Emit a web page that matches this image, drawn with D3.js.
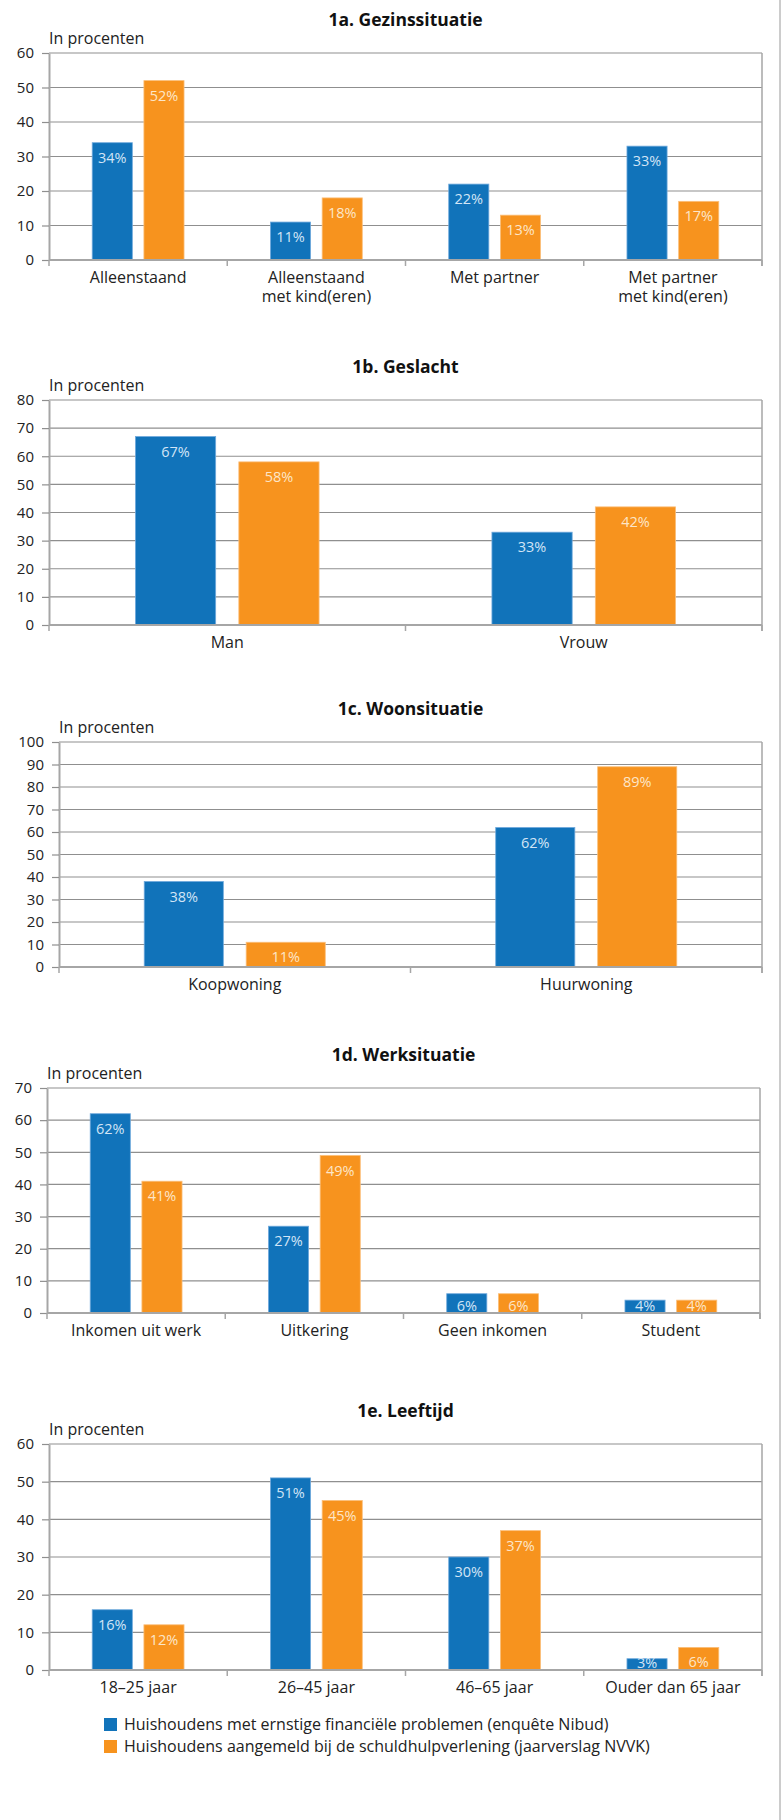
<!DOCTYPE html>
<html>
<head>
    <meta charset="utf-8">
    <title>Huishoudens met financiële problemen</title>
    <script src="https://cdnjs.cloudflare.com/ajax/libs/d3/7.8.5/d3.min.js"></script>
    <style>
        body {
            margin: 0;
            background: white;
            font-family: "Open Sans", "Noto Sans", sans-serif;
        }
    </style>
</head>
<body>
    <div id="chart"></div>

    <script>
        // data per panel
        const series = ["Huishoudens met ernstige financiële problemen (enquête Nibud)",
                        "Huishoudens aangemeld bij de schuldhulpverlening (jaarverslag NVVK)"];

        const catsA = ["Alleenstaand", "Alleenstaand\nmet kind(eren)", "Met partner", "Met partner\nmet kind(eren)"];
        const nibudA = [34, 11, 22, 33];
        const nvvkA = [52, 18, 13, 17];

        const catsB = ["Man", "Vrouw"];
        const nibudB = [67, 33];
        const nvvkB = [58, 42];

        const catsC = ["Koopwoning", "Huurwoning"];
        const nibudC = [38, 62];
        const nvvkC = [11, 89];

        const catsD = ["Inkomen uit werk", "Uitkering", "Geen inkomen", "Student"];
        const nibudD = [62, 27, 6, 4];
        const nvvkD = [41, 49, 6, 4];

        const catsE = ["18–25 jaar", "26–45 jaar", "46–65 jaar", "Ouder dan 65 jaar"];
        const nibudE = [16, 51, 30, 3];
        const nvvkE = [12, 45, 37, 6];

        const yMaxA = 60, yMaxB = 80, yMaxC = 100, yMaxD = 70, yMaxE = 60;

        // layout of the panels (pixels)
        const panels = [
            { title: "1a. Gezinssituatie", cats: catsA, a: nibudA, b: nvvkA, max: yMaxA, x0: 49, x1: 762, y0: 53, y1: 260 },
            { title: "1b. Geslacht", cats: catsB, a: nibudB, b: nvvkB, max: yMaxB, x0: 49, x1: 762, y0: 400, y1: 625 },
            { title: "1c. Woonsituatie", cats: catsC, a: nibudC, b: nvvkC, max: yMaxC, x0: 59, x1: 762, y0: 742, y1: 967 },
            { title: "1d. Werksituatie", cats: catsD, a: nibudD, b: nvvkD, max: yMaxD, x0: 47, x1: 760, y0: 1088, y1: 1313 },
            { title: "1e. Leeftijd", cats: catsE, a: nibudE, b: nvvkE, max: yMaxE, x0: 49, x1: 762, y0: 1444, y1: 1670 }
        ];

        const blue = "#1173ba";
        const orange = "#f7931e";
        const gridColor = "#8f8f8f";

        const width = 781, height = 1820;

        const svg = d3.select("#chart")
            .append("svg")
            .attr("width", width)
            .attr("height", height);

        // grey rule on the right side of the page
        svg.append("line")
            .attr("x1", 780).attr("x2", 780)
            .attr("y1", 0).attr("y2", height)
            .attr("stroke", "#cccccc")
            .attr("stroke-width", 2);

        panels.forEach(p => {
            const g = svg.append("g");

            const x = d3.scaleBand().domain(p.cats).range([p.x0, p.x1]);
            const xs = d3.scaleBand().domain(["a", "b"]).range([0, x.bandwidth()])
                .paddingInner(0.224).paddingOuter(0.836);
            const y = d3.scaleLinear().domain([0, p.max]).range([p.y1, p.y0]);

            // title
            g.append("text")
                .attr("x", (p.x0 + p.x1) / 2)
                .attr("y", p.y0 - 27)
                .attr("text-anchor", "middle")
                .attr("font-size", "17.5px")
                .attr("font-weight", "bold")
                .attr("fill", "#111")
                .text(p.title);

            g.append("text")
                .attr("x", p.x0)
                .attr("y", p.y0 - 9)
                .attr("font-size", "16px")
                .attr("fill", "#222")
                .text("In procenten");

            // gridlines
            const ticks = d3.range(0, p.max + 1, 10);
            g.append("g")
                .selectAll("line")
                .data(ticks.filter(t => t > 0))
                .join("line")
                .attr("x1", p.x0).attr("x2", p.x1)
                .attr("y1", d => y(d)).attr("y2", d => y(d))
                .attr("stroke", gridColor)
                .attr("stroke-width", 1.2);

            // right border
            g.append("line")
                .attr("x1", p.x1).attr("x2", p.x1)
                .attr("y1", p.y0).attr("y2", p.y1 + 6)
                .attr("stroke", "#a6a6a6")
                .attr("stroke-width", 1.5);

            // y axis
            const yAxis = g.append("g")
                .attr("transform", `translate(${p.x0},0)`)
                .call(d3.axisLeft(y).tickValues(ticks).tickSize(7).tickPadding(8).tickSizeOuter(0));
            yAxis.select(".domain").attr("stroke", "#a6a6a6").attr("stroke-width", 2);
            yAxis.selectAll(".tick line").attr("stroke", gridColor).attr("stroke-width", 1.2);
            yAxis.selectAll(".tick text")
                .attr("font-size", "15px")
                .attr("fill", "#222")
                .attr("font-family", "'Open Sans', sans-serif");

            // bars
            const cells = [];
            p.cats.forEach((c, i) => {
                cells.push({ cat: c, key: "a", v: p.a[i] });
                cells.push({ cat: c, key: "b", v: p.b[i] });
            });

            g.append("g")
                .selectAll("rect")
                .data(cells)
                .join("rect")
                .attr("x", d => x(d.cat) + xs(d.key))
                .attr("width", xs.bandwidth())
                .attr("y", d => y(d.v))
                .attr("height", d => y(0) - y(d.v))
                .attr("fill", d => d.key === "a" ? blue : orange)
                .attr("stroke", d => d.key === "a" ? "#6fa9dc" : "#fbbf7a")
                .attr("stroke-width", 0.8);

            // x axis line
            g.append("line")
                .attr("x1", p.x0).attr("x2", p.x1)
                .attr("y1", p.y1).attr("y2", p.y1)
                .attr("stroke", "#a6a6a6")
                .attr("stroke-width", 2);

            // value labels inside the bar top, kept above the axis for short bars
            g.append("g")
                .selectAll("text")
                .data(cells)
                .join("text")
                .attr("x", d => x(d.cat) + xs(d.key) + xs.bandwidth() / 2)
                .attr("y", d => Math.min(y(d.v) + 20, y(0) - 2))
                .attr("text-anchor", "middle")
                .attr("font-size", "14.5px")
                .attr("fill", d => d.key === "a" ? "#d3e5f6" : "#fde6c8")
                .text(d => d.v + "%");

            // category boundary ticks
            const bounds = p.cats.map(c => x(c)).concat([p.x1]);
            g.append("g")
                .selectAll("line")
                .data(bounds)
                .join("line")
                .attr("x1", d => d).attr("x2", d => d)
                .attr("y1", p.y1).attr("y2", p.y1 + 6)
                .attr("stroke", "#a6a6a6")
                .attr("stroke-width", 1.5);

            // category labels
            const lab = g.append("g")
                .selectAll("text")
                .data(p.cats)
                .join("text")
                .attr("x", d => x(d) + x.bandwidth() / 2)
                .attr("y", p.y1 + 23)
                .attr("text-anchor", "middle")
                .attr("font-size", "16px")
                .attr("fill", "#222");
            lab.each(function (d) {
                d.split("\n").forEach((line, i) => {
                    d3.select(this).append("tspan")
                        .attr("x", x(d) + x.bandwidth() / 2)
                        .attr("dy", i === 0 ? 0 : 19)
                        .text(line);
                });
            });
        });

        // legend
        const legend = svg.append("g");
        legend.selectAll("rect")
            .data(series)
            .join("rect")
            .attr("x", 104)
            .attr("y", (d, i) => 1718 + i * 22)
            .attr("width", 13)
            .attr("height", 13)
            .attr("fill", (d, i) => i === 0 ? blue : orange);
        legend.selectAll("text")
            .data(series)
            .join("text")
            .attr("x", 124)
            .attr("y", (d, i) => 1730 + i * 22)
            .attr("font-size", "16px")
            .attr("fill", "#222")
            .text(d => d);
    </script>
</body>
</html>
